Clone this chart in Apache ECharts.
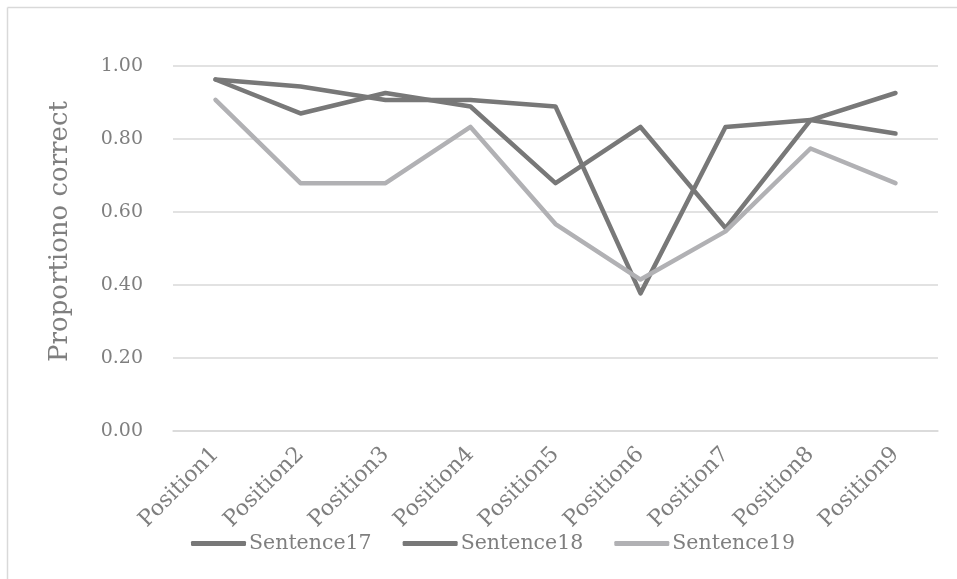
<!DOCTYPE html>
<html>
<head>
<meta charset="utf-8">
<style>
  html, body { margin: 0; padding: 0; background: #ffffff; }
  #chart { width: 957px; height: 579px; }
</style>
<script src="https://cdn.jsdelivr.net/npm/echarts@6/dist/echarts.min.js"></script>
</head>
<body>
<div id="chart"></div>
<script>
// Word positions within each sentence
const positions = ['Position1', 'Position2', 'Position3', 'Position4', 'Position5',
                   'Position6', 'Position7', 'Position8', 'Position9'];

// Proportion of correct responses per position
const sentence17 = [0.963, 0.944, 0.907, 0.907, 0.889, 0.377, 0.833, 0.852, 0.815];
const sentence18 = [0.963, 0.870, 0.926, 0.889, 0.679, 0.833, 0.556, 0.852, 0.926];
const sentence19 = [0.907, 0.679, 0.679, 0.833, 0.567, 0.415, 0.547, 0.774, 0.679];

const yTicks = [0, 0.2, 0.4, 0.6, 0.8, 1.0];

const FONT = 'DejaVu Serif';
const TEXT = '#7f7f7f';
const DARK = '#787878';
const LIGHT = '#b1b1b4';

function lineSeries(name, data, color) {
  return {
    name: name,
    type: 'line',
    data: data,
    symbol: 'none',
    color: color,
    lineStyle: { color: color, width: 4.5, cap: 'round', join: 'round' },
    emphasis: { disabled: true },
    animation: false
  };
}

const chart = echarts.init(document.getElementById('chart'));
chart.setOption({
  backgroundColor: '#ffffff',
  animation: false,
  textStyle: { fontFamily: FONT, color: TEXT },
  graphic: [
    { type: 'line', shape: { x1: 7.5, y1: 7.5, x2: 957, y2: 7.5 },
      style: { stroke: '#d9d9d9', lineWidth: 1.5 } },
    { type: 'line', shape: { x1: 7.5, y1: 7.5, x2: 7.5, y2: 579 },
      style: { stroke: '#d9d9d9', lineWidth: 1.5 } }
  ],
  grid: { left: 173, right: 19, top: 66, bottom: 148, containLabel: false },
  legend: {
    bottom: 20,
    left: 186,
    itemWidth: 55,
    itemHeight: 5,
    itemGap: 31,
    icon: 'roundRect',
    textStyle: { fontFamily: FONT, fontSize: 20.5, color: TEXT, padding: [0, 0, 0, -2] },
    data: ['Sentence17', 'Sentence18', 'Sentence19']
  },
  xAxis: {
    type: 'category',
    data: positions,
    boundaryGap: true,
    axisLine: { show: true, lineStyle: { color: '#d9d9d9', width: 1.5 } },
    axisTick: { show: false },
    axisLabel: {
      rotate: 45,
      interval: 0,
      margin: 20,
      fontFamily: FONT,
      fontSize: 22,
      color: TEXT
    }
  },
  yAxis: {
    type: 'value',
    min: yTicks[0],
    max: yTicks[yTicks.length - 1],
    interval: 0.2,
    name: 'Proportiono correct',
    nameLocation: 'middle',
    nameRotate: 90,
    nameGap: 100,
    nameTextStyle: { fontFamily: FONT, fontSize: 26, color: TEXT, padding: [0, 0, 0, 34] },
    axisLine: { show: false },
    axisTick: { show: false },
    splitLine: { lineStyle: { color: '#d9d9d9', width: 1.5 } },
    axisLabel: {
      margin: 30,
      fontFamily: FONT,
      fontSize: 19,
      color: TEXT,
      formatter: v => v.toFixed(2)
    }
  },
  series: [
    lineSeries('Sentence17', sentence17, DARK),
    lineSeries('Sentence18', sentence18, DARK),
    lineSeries('Sentence19', sentence19, LIGHT)
  ]
});
</script>
</body>
</html>
